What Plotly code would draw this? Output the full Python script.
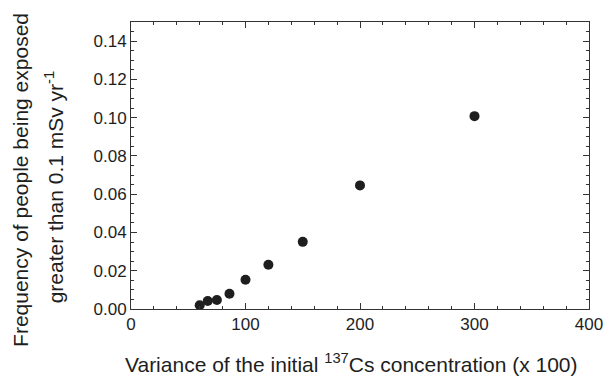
import plotly.graph_objects as go

variance = [60, 67, 75, 86, 100, 120, 150, 200, 300]
frequency = [0.0020, 0.0042, 0.0047, 0.0080, 0.0153, 0.0231, 0.0351, 0.0646, 0.1008]
x_ticks = [0, 100, 200, 300, 400]
y_ticks = [0.00, 0.02, 0.04, 0.06, 0.08, 0.10, 0.12, 0.14]

FONT = "Liberation Sans, Arial, Helvetica, sans-serif"
INK = "#1e1e1e"

fig = go.Figure()
fig.add_trace(go.Scatter(
    x=variance, y=frequency, mode="markers",
    marker=dict(size=10, color=INK, line=dict(width=0)),
    showlegend=False, hoverinfo="skip",
))

axis_common = dict(
    showgrid=False, zeroline=False, showline=True, linecolor="#333", linewidth=1,
    mirror="allticks", ticks="inside", ticklen=6, tickwidth=1, tickcolor="#333",
    tickfont=dict(family=FONT, size=17, color=INK),
)

fig.update_xaxes(
    range=[0, 400], tickvals=x_ticks, ticktext=[str(v) for v in x_ticks],
    minor=dict(dtick=20, ticks="inside", ticklen=3, tickcolor="#333", showgrid=False),
    **axis_common,
)
fig.update_yaxes(
    range=[0, 0.15], tickvals=y_ticks, ticktext=[f"{v:.2f}" for v in y_ticks],
    minor=dict(dtick=0.005, ticks="inside", ticklen=3, tickcolor="#333", showgrid=False),
    **axis_common,
)

fig.update_layout(
    width=615, height=377,
    margin=dict(l=131, r=18, t=22, b=68),
    paper_bgcolor="white", plot_bgcolor="white",
    font=dict(family=FONT, size=17, color=INK),
    annotations=[
        dict(text="Variance of the initial <sup>137</sup>Cs concentration (x 100)",
             xref="paper", yref="paper", x=(355 - 131) / 466, y=-(363 - 309) / 287,
             xanchor="center", yanchor="middle", showarrow=False,
             font=dict(family=FONT, size=21, color=INK)),
        dict(text="Frequency of people being exposed",
             xref="paper", yref="paper", x=-(131 - 19) / 466, y=(309 - 180) / 287,
             xanchor="center", yanchor="middle", textangle=-90, showarrow=False,
             font=dict(family=FONT, size=21, color=INK)),
        dict(text="greater than 0.1 mSv yr<sup>-1</sup>",
             xref="paper", yref="paper", x=-(131 - 53) / 466, y=(309 - 187) / 287,
             xanchor="center", yanchor="middle", textangle=-90, showarrow=False,
             font=dict(family=FONT, size=21, color=INK)),
    ],
)

fig.write_html("out.html")
